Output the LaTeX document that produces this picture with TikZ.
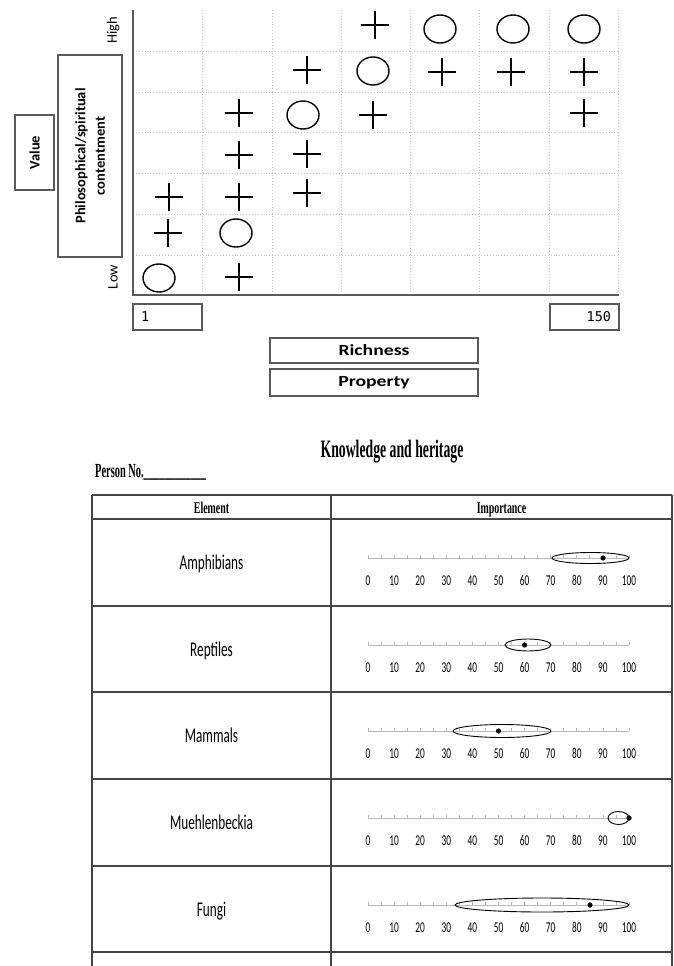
\documentclass[tikz,border=0pt]{standalone}
\usepackage{fontspec}
\setmainfont{Carlito}
\newfontfamily\calN[FakeStretch=0.63,Numbers=Lining]{Carlito}
\newfontfamily\calNN[FakeStretch=0.62,Numbers=Lining]{Carlito}
\newfontfamily\calW[FakeStretch=1.27]{Carlito}
\newfontfamily\serA[FakeStretch=0.55]{Liberation Serif}
\newfontfamily\serB[FakeStretch=0.6]{Liberation Serif}
\newfontfamily\serC[FakeStretch=0.52]{Liberation Serif}
\newfontfamily\monoF{DejaVu Sans Mono}
\usetikzlibrary{shapes.geometric,shapes.misc}
\tikzset{
  griddot/.style={gray!45, dotted, line width=0.9pt},
  axisline/.style={gray!70!black, line width=1.3pt},
  plussym/.style={draw, cross out, rotate=45, minimum size=18pt, inner sep=0pt, line width=1.8pt},
  circsym/.style={draw, ellipse, minimum width=32pt, minimum height=28pt, inner sep=0pt, line width=1.4pt},
  labbox/.style={draw=gray!70!black, line width=1.1pt, inner sep=0pt, align=center},
  vlab/.style={rotate=90, font=\fontsize{14.5}{17}\selectfont},
  tabline/.style={gray!55!black, line width=1.3pt},
  scaleline/.style={gray!55, line width=0.8pt},
  numlab/.style={font=\calNN\fontsize{15}{17}\selectfont, inner sep=0pt, anchor=base},
  elemlab/.style={font=\calN\fontsize{21}{24}\selectfont, inner sep=0pt, anchor=base},
  headlab/.style={font=\serB\bfseries\fontsize{16.5}{19}\selectfont, inner sep=0pt, anchor=base},
  rangeell/.style={draw=black, line width=0.9pt},
}
\begin{document}
\begin{tikzpicture}[x=1pt,y=-1pt]
\useasboundingbox[fill=white] (0,0) rectangle (673,966);
% ---------- top chart ----------
\foreach \yy in {51,92,132,173,214,255} \draw[griddot] (133,\yy) -- (618,\yy);
\foreach \xx in {202,272,341,410,479,549,618} \draw[griddot] (\xx,10) -- (\xx,295);
\draw[axisline] (133,10) -- (133,295) -- (619,295);
% symbols
\node[plussym] (p41) at (375,25) {};
\node[circsym] (c51) at (440,29) {};
\node[circsym] (c61) at (513,29) {};
\node[circsym] (c71) at (584,29) {};
\node[plussym] (p32) at (307,70) {};
\node[circsym] (c42) at (373,71) {};
\node[plussym] (p52) at (442,72) {};
\node[plussym] (p62) at (511,72) {};
\node[plussym] (p72) at (584,72) {};
\node[plussym] (p23) at (239,113) {};
\node[circsym] (c33) at (303,115) {};
\node[plussym] (p43) at (373,115) {};
\node[plussym] (p73) at (584,113) {};
\node[plussym] (p24) at (239,155) {};
\node[plussym] (p34) at (307,154) {};
\node[plussym] (p15) at (169,197) {};
\node[plussym] (p25) at (239,197) {};
\node[plussym] (p35) at (307,193) {};
\node[plussym] (p16) at (168,233) {};
\node[circsym] (c26) at (236,233) {};
\node[circsym] (c17) at (159,278) {};
\node[plussym] (p27) at (239,277) {};
% labels
\node[vlab] (high) at (113,30) {High};
\node[vlab] (low) at (113,277) {Low};
\node[labbox, rotate=90, minimum width=202pt, minimum height=64pt,
      font=\bfseries\fontsize{14.5}{19.5}\selectfont] (phil) at (90,156) {Philosophical/spiritual\\contentment};
\node[labbox, rotate=90, minimum width=75pt, minimum height=39pt,
      font=\bfseries\fontsize{14.5}{17}\selectfont] (value) at (34.5,152.5) {Value};
\node[labbox, minimum width=69pt, minimum height=26pt, inner xsep=8pt, text width=53pt, align=left,
      font=\monoF\fontsize{13.5}{16}\selectfont] (one) at (167.5,317) {1};
\node[labbox, minimum width=69pt, minimum height=26pt, inner xsep=8pt, text width=53pt, align=right,
      font=\monoF\fontsize{13.5}{16}\selectfont] (onefifty) at (584.5,317) {150};
\node[labbox, minimum width=208pt, minimum height=25pt,
      font=\calW\bfseries\fontsize{15.5}{18}\selectfont] (rich) at (374,350.5) {Richness};
\node[labbox, minimum width=208pt, minimum height=27pt,
      font=\calW\bfseries\fontsize{15.5}{18}\selectfont] (prop) at (374,382.5) {Property};
% ---------- bottom form ----------
\node[anchor=base, inner sep=0pt, font=\serA\bfseries\fontsize{25}{28}\selectfont] (title) at (392,457) {Knowledge and heritage};
\node[anchor=base west, inner sep=0pt, font=\serC\bfseries\fontsize{20}{23}\selectfont] (person) at (95,477) {Person No.\_\_\_\_\_\_\_\_\_\_\_\_};
% table
\draw[tabline] (92,495) -- (672,495);
\foreach \yy in {519,606,692,779,866,952} \draw[tabline] (92,\yy) -- (672,\yy);
\foreach \xx in {92,331,672} \draw[tabline] (\xx,495) -- (\xx,966);
\node[headlab] (hElem) at (211.5,513) {Element};
\node[headlab] (hImp) at (501.5,513) {Importance};
% rows
\foreach \t/\name/\cx/\rx/\ry/\dx [count=\i] in
  {519/Amphibians/590.5/38.5/5.5/603,
   606/Reptiles/528/23/6/524.6,
   692/Mammals/502/49/6.5/498.5,
   779/Muehlenbeckia/618.5/10.5/6.5/629,
   866/Fungi/542/87/7/590}{
  \node[elemlab] (elem\i) at (211.5,\t+50) {\name};
  \draw[scaleline] (368,\t+39) -- (629,\t+39);
  \foreach \k in {0,...,20} \draw[scaleline] ({368+13.05*\k},\t+39) -- ++(0,-3);
  \foreach \n in {0,10,...,100} \node[numlab] (num\i-\n) at ({368+2.61*\n},\t+66.5) {\n};
  \draw[rangeell] (\cx,\t+39) ellipse [x radius=\rx pt, y radius=\ry pt];
  \fill (\dx,\t+39) circle [radius=2.6pt];
}
\end{tikzpicture}
\end{document}
